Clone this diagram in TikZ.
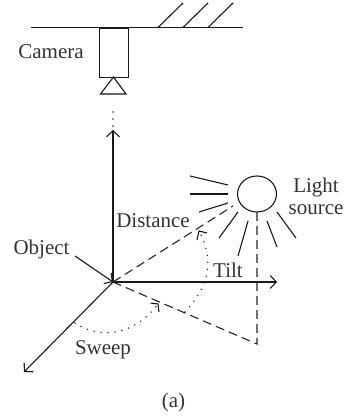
\documentclass[tikz,border=0pt]{standalone}
\usepackage{fontspec}
\setmainfont{Liberation Serif}
\usetikzlibrary{arrows.meta,shapes.geometric}
\tikzset{
  ln/.style={line width=1.1pt,black!90},
  arr/.style={ln,-{Straight Barb[length=6pt,width=13pt,line width=1.1pt]}},
  dsh/.style={line width=1.1pt,black!85,dash pattern=on 9pt off 5pt},
  dot/.style={line width=1.6pt,black!85,line cap=round,dash pattern=on 0pt off 7pt},
  tip/.style={line width=1.1pt,black!90},
  lbl/.style={inner sep=0pt,text=black!80,font=\fontsize{21}{22}\selectfont,align=center},
}
\begin{document}
\begin{tikzpicture}[x=1pt,y=-1pt]
\useasboundingbox (0,0) rectangle (347,417);
% ceiling
\coordinate (wallL) at (31,27.5); \coordinate (wallR) at (243,27.5);
\draw[ln] (wallL) -- (wallR);
\foreach \x in {158,183,208} \draw[ln] (\x,27.5) -- (\x+25,3);
% camera
\node[draw,ln,minimum width=29pt,minimum height=49pt,inner sep=0pt,anchor=north west] (cam) at (99,28) {};
\coordinate (lensT) at (113.5,77); \coordinate (lensL) at (100.5,94); \coordinate (lensR) at (126,94);
\draw[ln] (lensT) -- (lensL) -- (lensR) -- cycle;
\coordinate (dotsT) at (113,112); \coordinate (dotsB) at (113,134);
\draw[dot] (dotsT) -- (dotsB);
% axes
\coordinate (O) at (113,282);
\coordinate (up) at (113,130); \coordinate (right) at (277,282); \coordinate (dl) at (24,372);
\draw[arr] (O) -- (up);
\draw[arr] (O) -- (right);
\draw[arr] (O) -- (dl);
\coordinate (objS) at (75,256);
\draw[arr] (objS) -- (O);
% light
\node[draw,ln,ellipse,minimum width=39pt,minimum height=36pt,inner sep=0pt] (sun) at (257,194) {};
\foreach \a/\b/\c/\d in {190/176/228/185,190/194/228/194,199/212/228/203,219/238/238/212,238/256/248/221,277/247/267/221,296/238/277/212}
  \draw[ln] (\a,\b) -- (\c,\d);
% dashed triangle
\coordinate (rayEnd) at (233,206); \coordinate (foot) at (257,344); \coordinate (sunB) at (257,212);
\draw[dsh] (O) -- (rayEnd);
\draw[dsh] (O) -- (foot) -- (sunB);
% dotted arcs
\coordinate (swS) at (75,323); \coordinate (swE) at (158,304);
\draw[dot] (swS) .. controls (100,340) and (135,335) .. (swE);
\draw[tip] (150.5,303) -- (158,304) -- (159,312);
\coordinate (tiS) at (185,312); \coordinate (tiE) at (199,231);
\draw[dot] (tiS) .. controls (205,290) and (217,265) .. (tiE);
\draw[tip] (197,240) -- (199,231) -- (207,233);
% labels
\node[lbl] (lcam) at (51,52) {Camera};
\node[lbl] (lobj) at (41.5,249) {Object};
\node[lbl] (ldis) at (153,221) {Distance};
\node[lbl] (ltil) at (228,270) {Tilt};
\node[lbl] (lswe) at (103,350) {Sweep};
\node[lbl] (lsun) at (316,196) {Light\\source};
\node[lbl] (lcap) at (173.5,402) {(a)};
\end{tikzpicture}
\end{document}
